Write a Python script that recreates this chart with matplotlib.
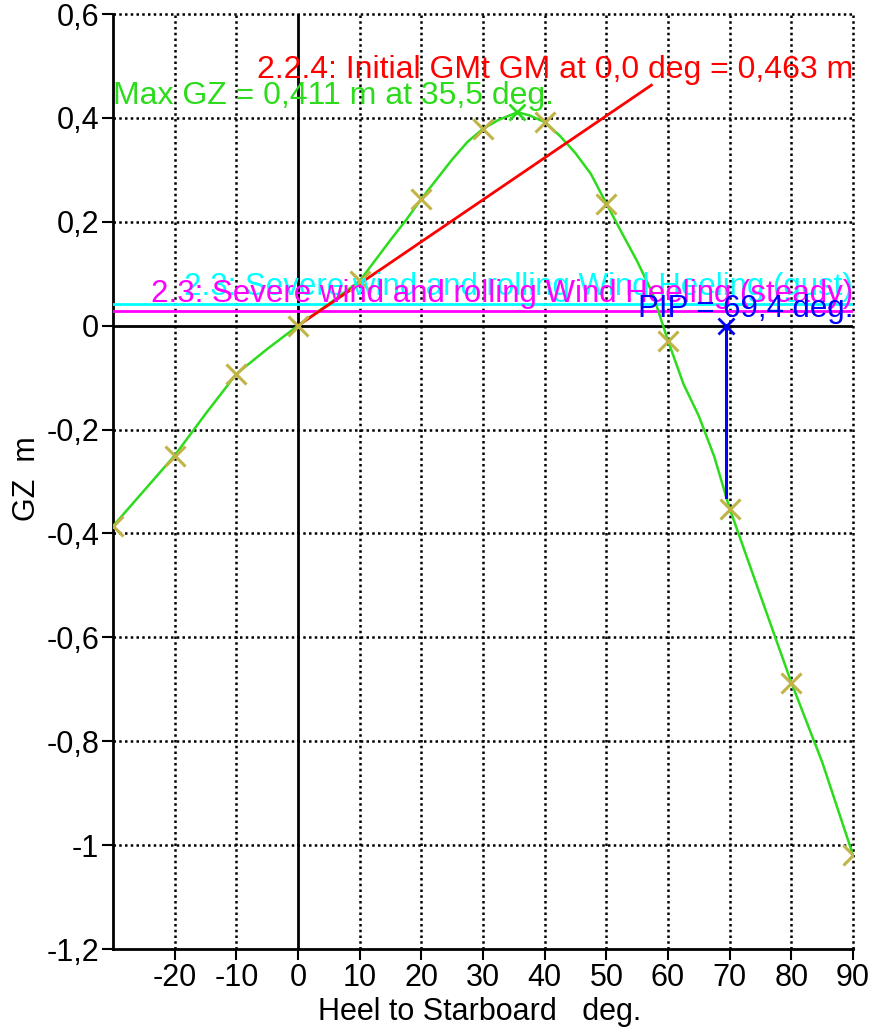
import matplotlib
matplotlib.use("Agg")
import matplotlib.pyplot as plt

plt.rcParams['font.family'] = ['Liberation Sans', 'DejaVu Sans']

# GZ curve
curve_heel = [-30, -25, -20, -15, -10, -5, 0, 5, 10, 15, 17.5, 20, 25, 27.5, 30, 32.5,
              35, 35.5, 37.5, 40, 42.5, 45, 47.5, 50, 52.5, 55, 57.5, 60, 62.5, 65,
              67.5, 70, 75, 80, 85, 90]
curve_gz = [-0.386, -0.318, -0.250, -0.170, -0.093, -0.045, 0.0, 0.042, 0.086, 0.165,
            0.203, 0.244, 0.320, 0.354, 0.379, 0.396, 0.408, 0.411, 0.405, 0.392,
            0.365, 0.332, 0.292, 0.235, 0.179, 0.124, 0.062, -0.029, -0.112, -0.174,
            -0.252, -0.352, -0.520, -0.687, -0.840, -1.019]

# Marked points every 10 deg
mark_heel = [-30, -20, -10, 0, 10, 20, 30, 40, 50, 60, 70, 80, 90]
mark_gz = [-0.386, -0.250, -0.093, 0.0, 0.086, 0.244, 0.379, 0.392, 0.235, -0.029,
           -0.352, -0.687, -1.019]

max_heel, max_gz = 35.5, 0.411
gm_heel = [0, 57.3]
gm_gz = [0, 0.463]
gust_gz = 0.042
steady_gz = 0.028
pip_heel = 69.4
pip_gz_bottom = -0.330

xticks = [-20, -10, 0, 10, 20, 30, 40, 50, 60, 70, 80, 90]
yticks = [-1.2, -1.0, -0.8, -0.6, -0.4, -0.2, 0.0, 0.2, 0.4, 0.6]
ytick_labels = ["-1,2", "-1", "-0,8", "-0,6", "-0,4", "-0,2", "0", "0,2", "0,4", "0,6"]

fig = plt.figure(figsize=(8.77, 10.30), dpi=100)
ax = fig.add_axes([113/877, 1 - 949/1030, (853-113)/877, (949-14)/1030])
ax.set_xlim(-30, 90)
ax.set_ylim(-1.2, 0.6)

dot = (0, (1, 1.3))
for x in xticks:
    if x == 0:
        continue
    ax.axvline(x, color='black', lw=1.8, ls=dot, zorder=1, clip_on=False)
for y in yticks:
    if y == 0 or y == -1.2:
        continue
    ax.axhline(y, color='black', lw=1.8, ls=dot, zorder=1, clip_on=False)
ax.axvline(0, color='black', lw=2, zorder=1)
ax.axhline(0, color='black', lw=2, zorder=1)

for s in ['top', 'right']:
    ax.spines[s].set_visible(False)
for s in ['left', 'bottom']:
    ax.spines[s].set_linewidth(2)

ax.set_xticks(xticks)
ax.set_xticklabels([str(v) for v in xticks])
ax.set_yticks(yticks)
ax.set_yticklabels(ytick_labels)
ax.tick_params(axis='both', labelsize=22, length=8, width=1.5, direction='out', pad=2)

# wind heeling lines
ax.plot([-30, 90], [gust_gz, gust_gz], color='#00ffff', lw=2, zorder=3)
ax.plot([-30, 90], [steady_gz, steady_gz], color='#ff00ff', lw=2, zorder=3)

# GZ curve
ax.plot(curve_heel, curve_gz, color='#2cdc1c', lw=1.8, zorder=4)
ax.plot(mark_heel, mark_gz, ls='none', marker='x', ms=15, mew=2.2, color='#c0b446', zorder=5)
ax.plot([max_heel], [max_gz], ls='none', marker='x', ms=12, mew=2, color='#2cdc1c', zorder=5)

# initial GM line
ax.plot(gm_heel, gm_gz, color='red', lw=2, zorder=4)

# PIP
ax.plot([pip_heel, pip_heel], [0, pip_gz_bottom], color='#0000ff', lw=2.2, zorder=6)
ax.plot([pip_heel], [0], ls='none', marker='x', ms=12, mew=2, color='#0000ff', zorder=6)

fs = 22.5
ax.text(90, 0.477, "2.2.4: Initial GMt GM at 0,0 deg = 0,463 m", color='red',
        fontsize=23, ha='right', va='baseline', zorder=7)
ax.text(-30, 0.427, "Max GZ = 0,411 m at 35,5 deg.", color='#2cdc1c',
        fontsize=23, ha='left', va='baseline', zorder=7)
ax.text(90, 0.059, "2.3: Severe wind and rolling Wind Heeling (gust)", color='#00ffff',
        fontsize=fs, ha='right', va='baseline', zorder=7)
ax.text(90, 0.045, "2.3: Severe wind and rolling Wind Heeling (steady)", color='#ff00ff',
        fontsize=fs, ha='right', va='baseline', zorder=7)
ax.text(90, 0.017, "PIP = 69,4 deg.", color='#0000ff',
        fontsize=fs, ha='right', va='baseline', zorder=8)

fig.text(480/877, 1 - 1012/1030, "Heel to Starboard   deg.", fontsize=22, ha='center', va='center')
fig.text(27/877, 1 - 479/1030, "GZ  m", fontsize=22, ha='center', va='center', rotation=90)

fig.savefig("out.png", dpi=100)
